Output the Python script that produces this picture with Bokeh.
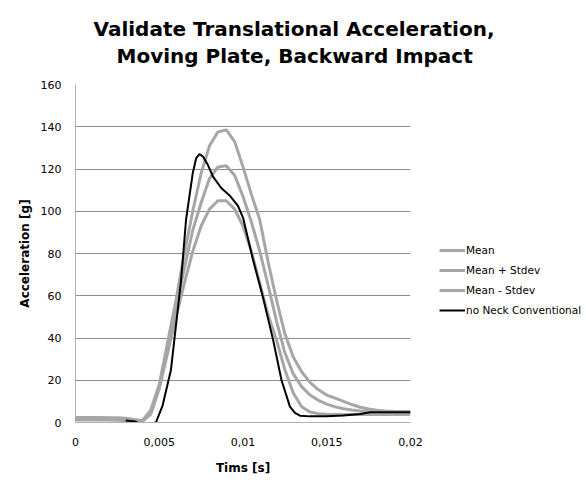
from bokeh.plotting import figure
from bokeh.models import Range1d, FixedTicker, Legend, LegendItem, Title
from bokeh.embed import file_html
from bokeh.resources import INLINE

# ---- data ----
time_s = [0.0, 0.0005, 0.001, 0.0015, 0.002, 0.0025, 0.003, 0.0035, 0.004, 0.0045,
          0.005, 0.0055, 0.006, 0.0065, 0.007, 0.0075, 0.008, 0.0085, 0.009, 0.0095,
          0.010, 0.0105, 0.011, 0.0115, 0.012, 0.0125, 0.013, 0.0135, 0.014, 0.0145,
          0.015, 0.0155, 0.016, 0.0165, 0.017, 0.0175, 0.018, 0.0185, 0.019, 0.0195, 0.020]

mean_plus = [2.4, 2.4, 2.4, 2.4, 2.3, 2.2, 2.0, 1.4, 1.0, 6.0,
             18.0, 38.0, 58.0, 80.0, 100.0, 118.0, 131.0, 137.5, 138.5, 133.0,
             121.0, 108.0, 96.0, 76.0, 58.0, 42.0, 31.0, 24.0, 19.0, 15.5,
             13.0, 11.5, 10.0, 8.5, 7.2, 6.4, 5.8, 5.5, 5.3, 5.2, 5.2]

mean = [1.8, 1.8, 1.8, 1.8, 1.7, 1.6, 1.5, 1.0, 0.6, 5.0,
        17.0, 36.0, 55.0, 73.0, 91.0, 104.0, 115.5, 121.0, 121.5, 117.0,
        107.0, 95.0, 81.0, 65.0, 48.0, 33.0, 23.0, 17.0, 13.0, 10.5,
        8.7, 7.4, 6.5, 5.9, 5.4, 5.1, 5.0, 4.9, 4.9, 4.8, 4.8]

mean_minus = [1.2, 1.2, 1.2, 1.2, 1.2, 1.1, 1.0, 0.8, 0.5, 4.0,
              16.0, 33.0, 50.0, 66.0, 81.0, 93.0, 101.0, 105.0, 105.0, 101.0,
              93.0, 81.0, 66.0, 51.0, 39.0, 25.0, 14.0, 7.5, 5.0, 4.2,
              3.9, 3.8, 3.8, 3.8, 3.8, 3.8, 3.8, 3.8, 3.8, 3.8, 3.8]

neck_time = [0.0030, 0.0035, 0.0039, 0.0045, 0.0048, 0.0052, 0.0057, 0.0063, 0.0066,
             0.0070, 0.0072, 0.0074, 0.0076, 0.0079, 0.0082, 0.0087, 0.0092, 0.0097,
             0.0100, 0.0106, 0.0112, 0.0118, 0.0123, 0.0128, 0.0131, 0.0134, 0.0140,
             0.0150, 0.0160, 0.0170, 0.0176, 0.0182, 0.0190, 0.0200]
neck_acc = [1.0, 0.6, -0.8, -0.5, 0.0, 8.0, 25.0, 67.0, 96.0,
            118.0, 125.0, 127.0, 126.0, 122.0, 116.5, 111.0, 107.5, 102.5,
            97.0, 77.0, 59.0, 39.0, 20.0, 7.5, 4.5, 3.2, 2.9,
            3.0, 3.3, 4.0, 4.8, 4.9, 4.8, 4.8]

series_names = ["Mean", "Mean + Stdev", "Mean - Stdev", "no Neck Conventional"]
x_ticks = [0.0, 0.005, 0.01, 0.015, 0.02]
x_tick_labels = ["0", "0,005", "0,01", "0,015", "0,02"]
y_ticks = [0, 20, 40, 60, 80, 100, 120, 140, 160]

FONT = "DejaVu Sans"
GRAY = "#a6a6a6"

p = figure(frame_width=335, frame_height=338, output_backend="svg", toolbar_location=None,
           x_range=Range1d(0, 0.02), y_range=Range1d(0, 160),
           min_border_left=75, min_border_right=176, min_border_top=84,
           min_border_bottom=60)
p.outline_line_color = None
p.background_fill_color = "white"
p.border_fill_color = "white"

# titles: spacer nearest the frame, then line 2, then line 1 above it
spacer = Title(text=" ", text_font=FONT, text_font_size="1px", standoff=13)
t2 = Title(text="Moving Plate, Backward Impact", align="left", offset=41,
           text_font=FONT, text_font_size="20px", text_font_style="bold",
           text_color="black", standoff=2, text_line_height=1.0)
t1 = Title(text="Validate Translational Acceleration,", align="left", offset=18,
           text_font=FONT, text_font_size="20px", text_font_style="bold",
           text_color="black", standoff=0, text_line_height=1.0)
p.add_layout(spacer, "above")
p.add_layout(t2, "above")
p.add_layout(t1, "above")

# axes
for ax in (p.xaxis[0], p.yaxis[0]):
    ax.major_tick_line_color = None
    ax.minor_tick_line_color = None
    ax.axis_line_color = "#b0b0b0"
    ax.major_label_text_font = FONT
    ax.major_label_text_font_size = "11px"
    ax.major_label_text_color = "black"
    ax.axis_label_text_font = FONT
    ax.axis_label_text_font_size = "12px"
    ax.axis_label_text_font_style = "bold"
    ax.axis_label_text_color = "black"

p.xaxis.ticker = FixedTicker(ticks=x_ticks)
p.xaxis.major_label_overrides = {t: l for t, l in zip(x_ticks, x_tick_labels)}
p.xaxis.axis_label = "Tims [s]"
p.xaxis.major_label_standoff = 9
p.xaxis.axis_label_standoff = 12

p.yaxis.ticker = FixedTicker(ticks=y_ticks)
p.yaxis.axis_label = "Acceleration [g]"
p.yaxis.major_label_standoff = 8
p.yaxis.axis_label_standoff = 6

p.xgrid.grid_line_color = None
p.ygrid.ticker = FixedTicker(ticks=y_ticks)
p.ygrid.grid_line_color = "#8c8c8c"
p.ygrid.grid_line_width = 1

r_mean = p.line(time_s, mean, line_color=GRAY, line_width=3)
r_plus = p.line(time_s, mean_plus, line_color=GRAY, line_width=3)
r_minus = p.line(time_s, mean_minus, line_color=GRAY, line_width=3)
r_neck = p.line(neck_time, neck_acc, line_color="black", line_width=2)

legend = Legend(items=[LegendItem(label=n, renderers=[r]) for n, r in
                       zip(series_names, [r_mean, r_plus, r_minus, r_neck])],
                location=(29, 102), orientation="vertical",
                background_fill_alpha=0, border_line_color=None,
                label_text_font=FONT, label_text_font_size="10.5px",
                label_text_color="black", glyph_width=26, glyph_height=20,
                label_height=20, label_standoff=1, spacing=0, padding=0, margin=0)
p.add_layout(legend, "right")

open("out.html", "w").write(file_html(p, INLINE))
